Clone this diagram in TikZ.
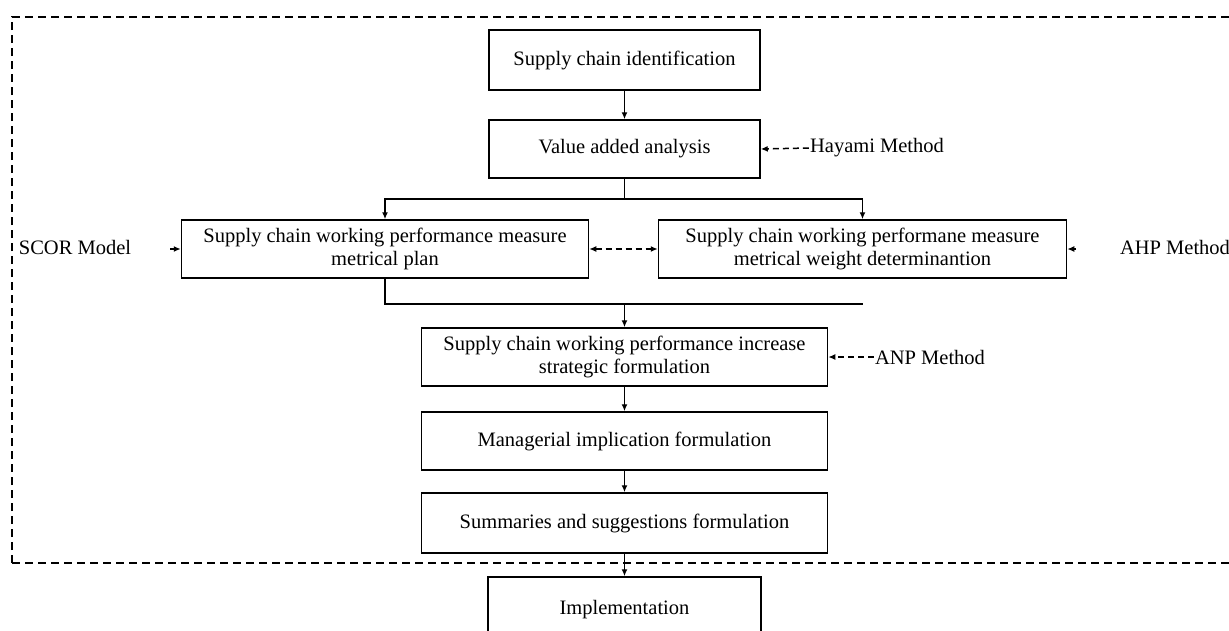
\documentclass[tikz,border=0pt]{standalone}
\usepackage{fontspec}
\setmainfont{Liberation Serif}
\usetikzlibrary{arrows.meta}
\begin{document}
\begin{tikzpicture}[x=1pt,y=-1pt,
  font=\fontsize{20.5}{23}\selectfont,
  stepbox/.style={draw, line width=1.5pt, align=center, inner sep=2pt},
  conn/.style={line width=1.5pt},
  arr/.style={conn, -{Latex[length=7pt,width=6pt]}},
  arrb/.style={conn, {Latex[length=7pt,width=6pt]}-{Latex[length=7pt,width=6pt]}},
  dsh/.style={dash pattern=on 6pt off 4pt},
  lbl/.style={inner sep=1pt}]
\useasboundingbox (0,0) rectangle (1229,630);
\clip (0,0) rectangle (1229,630);
% dashed frame
\draw[line width=1.3pt, dash pattern=on 8pt off 5pt] (12,563) -- (12,17) -- (1240,17);
\draw[line width=1.3pt, dash pattern=on 8pt off 5pt] (12,563) -- (1240,563);
% boxes
\node[stepbox, minimum width=271pt, minimum height=60pt] (b1) at (624.5,60) {Supply chain identification};
\node[stepbox, minimum width=271pt, minimum height=58pt] (b2) at (624.5,149) {Value added analysis};
\node[stepbox, minimum width=407pt, minimum height=58pt] (b3) at (385,249) {Supply chain working performance measure\\metrical plan};
\node[stepbox, minimum width=408pt, minimum height=58pt] (b4) at (862.5,249) {Supply chain working performane measure\\metrical weight determinantion};
\node[stepbox, minimum width=406pt, minimum height=58pt] (b5) at (624.5,357) {Supply chain working performance increase\\strategic formulation};
\node[stepbox, minimum width=406pt, minimum height=58pt] (b6) at (624.5,441) {Managerial implication formulation};
\node[stepbox, minimum width=406pt, minimum height=60pt] (b7) at (624.5,523) {Summaries and suggestions formulation};
\node[stepbox, minimum width=273pt, minimum height=60pt, text depth=0pt] (b8) at (624.5,607) {Implementation};
% side labels
\node[lbl] (hay) at (877,148) {Hayami Method};
\node[lbl] (scor) at (75,247) {SCOR Model};
\node[lbl] (ahp) at (1175,247) {AHP Method};
\node[lbl] (anp) at (930,357) {ANP Method};
% connectors
\draw[arr] (b1.south) -- (b2.north);
\coordinate (j1) at (624.5,199);
\draw[conn] (b2.south) -- (j1);
\draw[arr] (j1) -| (b3.north);
\draw[arr] (j1) -| (b4.north);
\coordinate (j2) at (863,304);
\draw[conn] (b3.south) |- (j2);
\draw[arr] (b5.north |- j2) -- (b5.north);
\draw[arr] (b5.south) -- (b6.north);
\draw[arr] (b6.south) -- (b7.north);
\draw[arr] (b7.south) -- (b8.north);
\draw[arrb, dsh] (b3.east) -- (b4.west);
\draw[arr, dsh] (hay.west) -- (b2.east);
\draw[arr, dsh] (anp.west) -- (b5.east);
\coordinate (scorA) at (170,249);
\draw[arr] (scorA) -- (b3.west);
\coordinate (ahpA) at (1076,249);
\draw[arr] (ahpA) -- (b4.east);
\end{tikzpicture}
\end{document}
